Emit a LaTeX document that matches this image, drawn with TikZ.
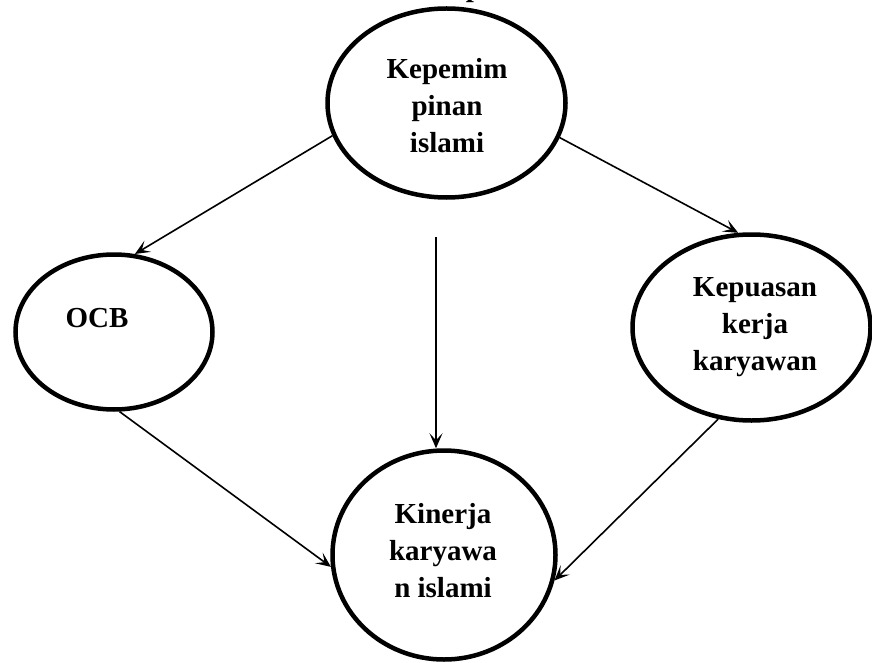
\documentclass[tikz,border=0pt]{standalone}
\usepackage{fontspec}
\setmainfont{Liberation Serif}
\usetikzlibrary{shapes.geometric,arrows.meta}
\begin{document}
\begin{tikzpicture}[x=1pt,y=-1pt,
  bubble/.style={draw,ellipse,line width=4.5pt,inner sep=0pt},
  caption/.style={font=\fontsize{29}{37}\selectfont\bfseries,align=center,inner sep=0pt},
  link/.style={line width=1.6pt,-{Stealth[length=15pt,width=13pt,inset=7pt]}}]
\useasboundingbox (0,0) rectangle (872,663);

% variables
\node[bubble,minimum width=238pt,minimum height=189pt] (lead) at (446.5,103) {};
\node[bubble,minimum width=197pt,minimum height=155pt] (ocb) at (114,332) {};
\node[bubble,minimum width=238pt,minimum height=186pt] (sat) at (751.5,327.5) {};
\node[bubble,minimum width=223pt,minimum height=209pt] (perf) at (444,555) {};

\node[caption] (leadtxt) at (447,106) {Kepemim\\pinan\\islami};
\node[caption] (ocbtxt) at (97,318) {OCB};
\node[caption] (sattxt) at (755,327) {Kepuasan\\kerja\\karyawan};
\node[caption] (perftxt) at (443,551) {Kinerja\\karyawa\\n islami};
\node[caption,anchor=base] (title) at (474,-3) {p};

% relations
\coordinate (vstart) at (436,237);
\draw[link] (lead.196) -- (ocb.75);
\draw[link] (lead.343.5) -- (sat.98);
\draw[link] (vstart) -- (vstart |- perf.north);
\draw[link] (ocb.274.6) -- (perf.186.4);
\draw[link] (sat.250.7) -- (perf.347.5);
\end{tikzpicture}
\end{document}
